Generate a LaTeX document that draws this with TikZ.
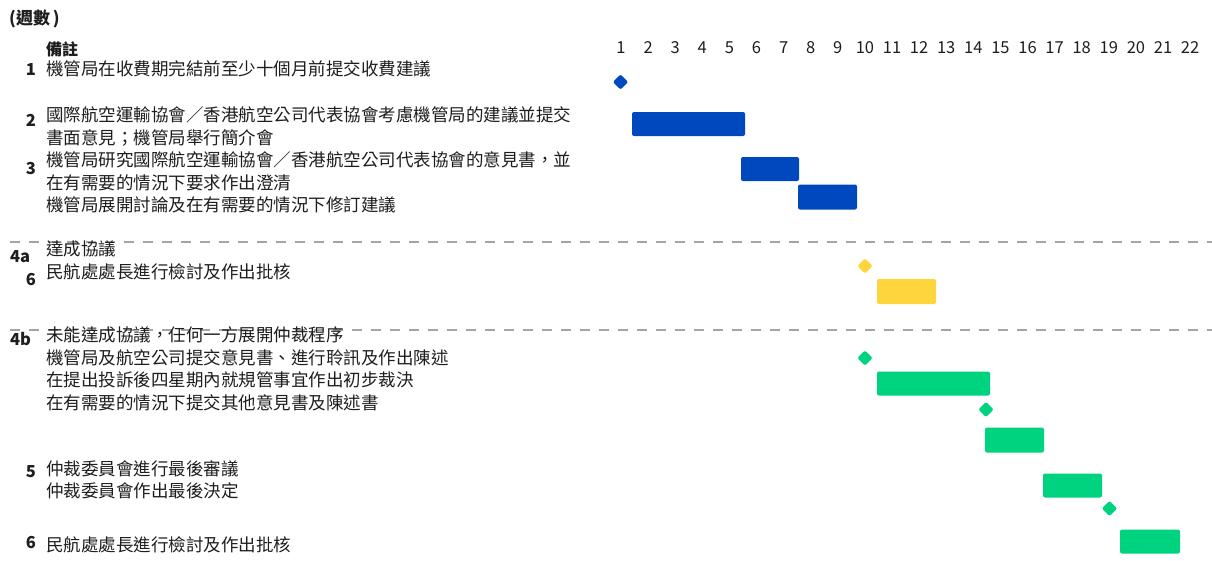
\documentclass[tikz,border=0pt]{standalone}
\usepackage{fontspec}
\setmainfont{Noto Sans CJK TC}
\usetikzlibrary{shapes.geometric}
\definecolor{gblue}{RGB}{0,72,190}
\definecolor{gyellow}{RGB}{255,213,61}
\definecolor{ggreen}{RGB}{0,211,127}
\definecolor{dgray}{RGB}{165,165,165}
\definecolor{txt}{RGB}{30,30,30}
\begin{document}
\begin{tikzpicture}[x=1pt,y=-1pt,
  lbl/.style={anchor=west, inner sep=0pt, text height=0.88em, text depth=0.12em, font=\fontsize{17.5}{20}\selectfont, text=txt},
  hdr/.style={lbl, font=\bfseries\fontsize{16}{20}\selectfont},
  numr/.style={anchor=east, inner sep=0pt, text height=0.74em, text depth=0pt, font=\bfseries\fontsize{16.5}{20}\selectfont, text=txt},
  numl/.style={numr, anchor=west},
  wk/.style={anchor=center, inner sep=0pt, text height=0.74em, text depth=0pt, font=\fontsize{16.5}{20}\selectfont, text=txt},
  barbox/.style={rectangle, rounded corners=2pt, inner sep=0pt, draw=none, minimum height=24pt},
  ms/.style={rectangle, rotate=45, inner sep=0pt, minimum size=10.8pt, rounded corners=2pt, draw=none},
  sep/.style={draw=dgray, line width=2pt, dash pattern=on 10pt off 9pt}]
\useasboundingbox (0,0) rectangle (1212,560);
\fill[white] (0,0) rectangle (1212,560);

% separators
\coordinate (s1a) at (10,242); \coordinate (s1b) at (1212,242);
\coordinate (s2a) at (10,330); \coordinate (s2b) at (1212,330);
\draw[sep] (s1a) -- (s1b);
\draw[sep] (s2a) -- (s2b);

% week numbers
\foreach \i in {1,...,22} \node[wk] (w\i) at ({621+27.1*(\i-1)},50) {\i};

% header
\node[hdr, font=\bfseries\fontsize{17}{20}\selectfont] (weeks) at (9,21) {(週數\,)};
\node[hdr] (notes) at (46,52) {備註};

% rows
\node[numr] (n1) at (36,72) {1};
\node[lbl] (t1) at (46,72) {機管局在收費期完結前至少十個月前提交收費建議};
\node[numr] (n2) at (36,123) {2};
\node[lbl] (t2a) at (46,118) {國際航空運輸協會／香港航空公司代表協會考慮機管局的建議並提交};
\node[lbl] (t2b) at (46,140.5) {書面意見；機管局舉行簡介會};
\node[numr] (n3) at (36,171) {3};
\node[lbl] (t3a) at (46,163) {機管局研究國際航空運輸協會／香港航空公司代表協會的意見書，並};
\node[lbl] (t3b) at (46,185.5) {在有需要的情況下要求作出澄清};
\node[lbl] (t3c) at (46,208) {機管局展開討論及在有需要的情況下修訂建議};

\node[numl] (n4a) at (10,259) {4a};
\node[lbl] (t4a) at (46,252) {達成協議};
\node[numr] (n6a) at (36,282) {6};
\node[lbl] (t6a) at (46,275) {民航處處長進行檢討及作出批核};

\node[numl] (n4b) at (10,342) {4b};
\node[lbl] (t4b1) at (46,338) {未能達成協議，任何一方展開仲裁程序};
\node[lbl] (t4b2) at (46,360.5) {機管局及航空公司提交意見書、進行聆訊及作出陳述};
\node[lbl] (t4b3) at (46,383) {在提出投訴後四星期內就規管事宜作出初步裁決};
\node[lbl] (t4b4) at (46,405.5) {在有需要的情況下提交其他意見書及陳述書};

\node[numr] (n5) at (36,474) {5};
\node[lbl] (t5a) at (46,472) {仲裁委員會進行最後審議};
\node[lbl] (t5b) at (46,494) {仲裁委員會作出最後決定};
\node[numr] (n6b) at (36,545) {6};
\node[lbl] (t6b) at (46,548) {民航處處長進行檢討及作出批核};

% milestones
\node[ms, fill=gblue] (m1) at (620.5,82) {};
\node[ms, fill=gyellow] (m2) at (865,266) {};
\node[ms, fill=ggreen] (m3) at (865,358) {};
\node[ms, fill=ggreen] (m4) at (986,409.5) {};
\node[ms, fill=ggreen] (m5) at (1109.5,508.5) {};

% bars
\node[barbox, fill=gblue, minimum width=113pt] (b2) at (688.5,124) {};
\node[barbox, fill=gblue, minimum width=58pt] (b3) at (770,169) {};
\node[barbox, fill=gblue, minimum width=59pt, minimum height=25pt] (b4) at (827.5,197) {};
\node[barbox, fill=gyellow, minimum width=59pt, minimum height=25pt] (y1) at (906.5,291.5) {};
\node[barbox, fill=ggreen, minimum width=113pt] (g1) at (933.5,383.5) {};
\node[barbox, fill=ggreen, minimum width=59pt, minimum height=25pt] (g2) at (1014.5,440) {};
\node[barbox, fill=ggreen, minimum width=59pt] (g3) at (1072.5,485.5) {};
\node[barbox, fill=ggreen, minimum width=60pt] (g4) at (1150,541.5) {};
\end{tikzpicture}
\end{document}
